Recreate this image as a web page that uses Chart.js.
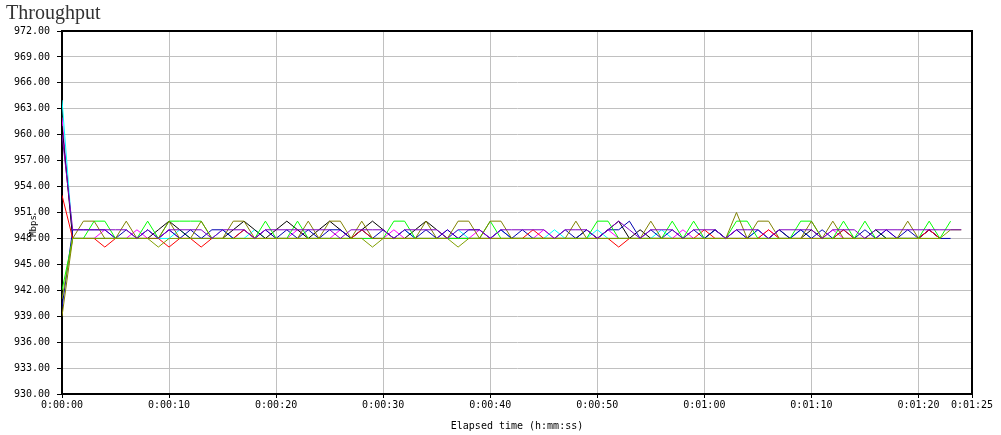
<!DOCTYPE html>
<html>
<head>
<meta charset="utf-8">
<script src="https://cdn.jsdelivr.net/npm/chart.js@4.4.0/dist/chart.umd.min.js"></script>
<style>
  html, body { margin: 0; padding: 0; background: #fff; }
  #wrap { width: 1001px; height: 435px; }
</style>
</head>
<body>
<div id="wrap"><canvas id="grafico" width="1001" height="435"></canvas></div>
<script>
// throughput per second, one array per stream (index = elapsed seconds)
var purple = [960,
  949,949,949,949,949,949,948,949,948,949,
  949,949,949,948,949,949,949,948,949,949,
  949,949,949,949,949,948,949,949,949,949,
  948,949,949,949,949,948,949,949,949,948,
  949,949,949,949,949,948,949,949,949,948,
  949,950,949,948,949,949,949,948,949,949,
  949,948,949,949,949,948,949,949,949,949,
  948,949,949,949,948,949,949,949,949,949,
  949,949,949,949];
var yellowGreen = [941,
  948,948,948,948,948,948,948,948,947,948,
  948,948,948,948,948,948,948,948,948,948,
  948,948,948,948,948,948,948,948,947,948,
  948,948,948,948,948,948,947,948,948,948,
  948,948,948,948,948,948,948,948,948,948,
  948,948,948,948,948,948,948,948,948,948,
  948,948,948,948,948,948,948,948,948,948,
  948,948,948,948,948,948,948,948,948,948,
  948,948,949,949];
var olive = [939,
  948,950,950,948,948,950,948,948,948,950,
  948,948,950,948,948,950,950,948,948,948,
  948,948,950,948,950,950,948,950,948,948,
  948,948,948,950,948,948,950,950,948,950,
  950,948,948,948,948,948,948,950,948,948,
  948,948,948,948,950,948,948,948,948,948,
  948,948,951,948,950,950,948,948,948,950,
  948,950,948,948,948,948,948,948,950,948,
  948,948];
var green = [942,
  948,948,950,950,948,948,948,950,948,950,
  950,950,950,948,948,948,948,948,950,948,
  948,950,948,948,948,948,948,948,948,948,
  950,950,948,948,948,948,948,948,948,950,
  948,948,948,948,948,948,948,948,948,950,
  950,948,948,948,948,948,950,948,950,948,
  948,948,950,950,948,948,948,948,950,950,
  948,948,950,948,950,948,948,948,948,948,
  950,948,950];
var red = [953,
  948,948,948,947,948,948,948,948,948,947,
  948,948,947,948,948,948,949,948,948,948,
  948,948,948,948,948,948,948,949,948,948,
  948,948,948,948,948,948,948,948,948,948,
  948,948,948,949,948,948,948,948,948,948,
  948,947,948,948,948,948,948,948,948,949,
  948,948,948,948,948,949,948,948,948,948,
  948,948,949,948,948,948,948,948,948,948,
  949,948];
var blue = [940,
  949,949,949,949,948,949,948,949,948,949,
  948,949,948,949,949,948,949,948,949,948,
  949,948,949,948,949,949,948,949,948,949,
  948,949,948,949,948,949,948,949,949,948,
  949,948,949,948,948,948,949,948,949,948,
  949,949,950,948,949,948,949,948,949,948,
  949,948,949,948,949,948,949,948,949,948,
  949,948,949,948,949,948,949,948,949,948,
  949,948,948];
var black = [961,
  948,948,948,948,948,948,948,948,949,950,
  949,948,948,948,948,949,950,949,948,949,
  950,949,948,949,950,949,948,949,950,949,
  948,948,949,950,949,948,948,948,948,948,
  948,948,948,948,948,948,948,948,949,948,
  949,950,948,949,948,948,948,948,948,948,
  949,948,948,948,948,948,949,948,948,949,
  948,948,948,948,948,949,948,948,948,948,
  949,948];
var cyan = [964,
  948,948,948,948,948,948,948,949,948,948,
  949,948,948,948,949,948,948,949,948,948,
  948,948,948,948,948,948,948,949,948,948,
  948,949,948,948,948,948,949,948,948,948,
  949,948,948,948,948,949,948,948,948,949,
  948,948,948,948,948,949,948,948,948,948,
  949,948,948,948,949,948,948,948,949,948,
  948,948,949,948,948,949,948,948,948,948];
var magenta = [962,
  948,948,948,949,948,948,949,948,948,949,
  948,948,948,948,949,948,948,948,949,948,
  948,949,948,948,948,949,948,948,948,948,
  949,948,948,948,948,949,948,948,949,948,
  949,948,948,948,949,948,948,948,948,948,
  949,948,948,948,948,948,948,949,948,948,
  948,948,949,948,948,949,948,948,949,948,
  948,949,948,948,948,948,949,948,948,948,
  949,948];

var xTicks = [0, 10, 20, 30, 40, 50, 60, 70, 80, 85];

function pontos(arr) {
    return arr.map(function (v, i) { return { x: i, y: v }; });
}

function tempo(seg) {
    var m = Math.floor(seg / 60);
    var s = seg % 60;
    return "0:" + (m < 10 ? "0" : "") + m + ":" + (s < 10 ? "0" : "") + s;
}

function serie(arr, cor) {
    return {
        data: pontos(arr),
        borderColor: cor,
        backgroundColor: cor,
        borderWidth: 1,
        pointRadius: 0,
        tension: 0,
        fill: false
    };
}

var fonte = { family: "'DejaVu Sans Mono', monospace", size: 10 };

// title, y title and the top/right frame
var extras = {
    id: 'extras',
    afterDraw: function (chart) {
        var ctx = chart.ctx;
        var a = chart.chartArea;
        ctx.save();
        ctx.strokeStyle = '#000';
        ctx.lineWidth = 2;
        ctx.beginPath();
        ctx.moveTo(a.left, a.top);
        ctx.lineTo(a.right, a.top);
        ctx.lineTo(a.right, a.bottom);
        ctx.stroke();

        ctx.fillStyle = '#333';
        ctx.font = "20px 'Liberation Serif', serif";
        ctx.textBaseline = 'alphabetic';
        ctx.textAlign = 'left';
        ctx.fillText('Throughput', 6, 19);

        ctx.fillStyle = '#000';
        ctx.font = "9px 'DejaVu Sans Mono', monospace";
        ctx.translate(34, 226);
        ctx.rotate(-Math.PI / 2);
        ctx.textAlign = 'center';
        ctx.textBaseline = 'middle';
        ctx.fillText('Mbps', 0, 0);
        ctx.restore();
    }
};

var grafico = new Chart(document.getElementById('grafico'), {
    type: 'line',
    data: {
        datasets: [
            serie(purple, '#8000c0'),
            serie(yellowGreen, '#80a000'),
            serie(olive, '#808000'),
            serie(green, '#00ff00'),
            serie(red, '#ff0000'),
            serie(blue, '#0000b0'),
            serie(black, '#000000'),
            serie(cyan, '#00ffff'),
            serie(magenta, '#ff00ff')
        ]
    },
    options: {
        responsive: false,
        animation: false,
        devicePixelRatio: 1,
        layout: { padding: { left: 0, top: 31, right: 29, bottom: 0 } },
        plugins: {
            legend: { display: false },
            tooltip: { enabled: false }
        },
        scales: {
            x: {
                type: 'linear',
                min: 0,
                max: 85,
                afterBuildTicks: function (scale) {
                    scale.ticks = xTicks.map(function (v) { return { value: v }; });
                },
                afterFit: function (scale) { scale.height = 41; },
                grid: { color: '#c0c0c0', tickColor: '#000', tickLength: 4 },
                border: { color: '#000', width: 2 },
                ticks: {
                    autoSkip: false,
                    maxRotation: 0,
                    padding: 1,
                    color: '#000',
                    font: fonte,
                    callback: function (v) { return tempo(v); }
                },
                title: {
                    display: true,
                    text: 'Elapsed time (h:mm:ss)',
                    color: '#000',
                    font: fonte,
                    padding: { top: 0, bottom: 3 }
                }
            },
            y: {
                min: 930,
                max: 972,
                afterFit: function (scale) { scale.width = 62; },
                grid: { color: '#c0c0c0', tickColor: '#000', tickLength: 5 },
                border: { color: '#000', width: 2 },
                ticks: {
                    stepSize: 3,
                    padding: 7,
                    color: '#000',
                    font: fonte,
                    callback: function (v) { return v.toFixed(2); }
                }
            }
        }
    },
    plugins: [extras]
});
</script>
</body>
</html>
